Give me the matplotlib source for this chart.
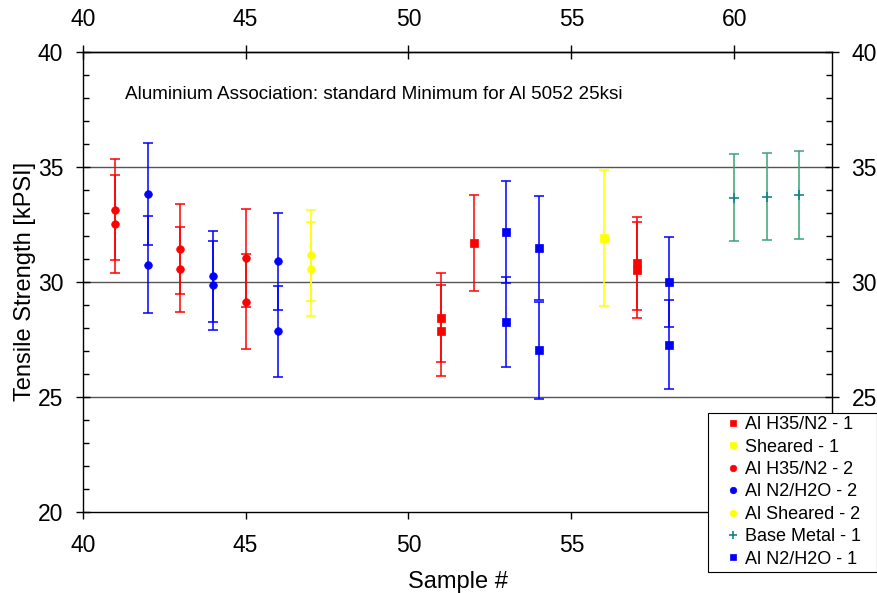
import matplotlib.pyplot as plt
from matplotlib.patches import Rectangle
from matplotlib.ticker import MultipleLocator

plt.rcParams['font.family'] = ['Liberation Sans', 'DejaVu Sans']

# tensile test results per sample series (value, +/- error)
h35_1_x = [51, 51, 52, 57, 57]
h35_1_y = [28.43, 27.86, 31.67, 30.80, 30.52]
h35_1_err = [1.93, 1.98, 2.08, 2.03, 2.08]

sheared_1_x = [56]
sheared_1_y = [31.90]
sheared_1_err = [2.96]

h35_2_x = [41, 41, 43, 43, 45, 45]
h35_2_y = [33.13, 32.51, 31.42, 30.55, 31.03, 29.13]
h35_2_err = [2.19, 2.15, 1.97, 1.85, 2.13, 2.07]

n2h2o_2_x = [42, 42, 44, 44, 46, 46]
n2h2o_2_y = [33.80, 30.74, 30.23, 29.84, 30.88, 27.84]
n2h2o_2_err = [2.21, 2.10, 1.97, 1.94, 2.11, 1.97]

sheared_2_x = [47, 47]
sheared_2_y = [31.14, 30.55]
sheared_2_err = [1.96, 2.03]

base_1_x = [60, 61, 62]
base_1_y = [33.65, 33.70, 33.78]
base_1_err = [1.90, 1.90, 1.92]

n2h2o_1_x = [53, 53, 54, 54, 58, 58]
n2h2o_1_y = [32.17, 28.25, 31.45, 27.01, 29.97, 27.26]
n2h2o_1_err = [2.21, 1.97, 2.26, 2.11, 1.96, 1.94]

series = [
    ("Al H35/N2 - 1", h35_1_x, h35_1_y, h35_1_err, "#ff0000", "s", "#ff0000"),
    ("Sheared - 1", sheared_1_x, sheared_1_y, sheared_1_err, "#ffff00", "s", "#ffff00"),
    ("Al H35/N2 - 2", h35_2_x, h35_2_y, h35_2_err, "#ff0000", "o", "#ff0000"),
    ("Al N2/H2O - 2", n2h2o_2_x, n2h2o_2_y, n2h2o_2_err, "#0000ff", "o", "#0000ff"),
    ("Al Sheared - 2", sheared_2_x, sheared_2_y, sheared_2_err, "#ffff00", "o", "#ffff00"),
    ("Base Metal - 1", base_1_x, base_1_y, base_1_err, "#3aa378", "+", "#13868a"),
    ("Al N2/H2O - 1", n2h2o_1_x, n2h2o_1_y, n2h2o_1_err, "#0000ff", "s", "#0000ff"),
]

fig = plt.figure(figsize=(8.78, 5.93), dpi=100)
ax = fig.add_axes([0.0942, 0.1371, 0.8534, 0.7757])

for y in (25, 30, 35):
    ax.axhline(y, color="#555555", lw=1.0, zorder=1)

handles = []
for label, xs, ys, errs, ecol, mk, mcol in series:
    ax.errorbar(xs, ys, yerr=errs, fmt="none", ecolor=ecol, elinewidth=1.1,
                capsize=3.5, capthick=1.1, zorder=2)
    ms = 7 if mk == "+" else 5.5
    h, = ax.plot(xs, ys, linestyle="none", marker=mk, color=mcol,
                 markersize=ms, markeredgewidth=1.2 if mk == "+" else 0.5,
                 label=label, zorder=3)
    handles.append(h)

ax.set_xlim(40, 63)
ax.set_ylim(20, 40)
ax.xaxis.set_major_locator(MultipleLocator(5))
ax.yaxis.set_major_locator(MultipleLocator(5))
ax.yaxis.set_minor_locator(MultipleLocator(1))

for sp in ax.spines.values():
    sp.set_linewidth(1.0)

ax.tick_params(axis="x", which="major", direction="out", length=5, width=1,
               labelsize=16.5, pad=11)
ax.tick_params(axis="y", which="major", direction="inout", length=10, width=1,
               left=True, right=True, labelright=True, labelsize=16.5, pad=9)
ax.tick_params(axis="y", which="minor", direction="in", length=4, width=1,
               left=True, right=True)

top = ax.secondary_xaxis("top")
top.xaxis.set_major_locator(MultipleLocator(5))
top.tick_params(direction="inout", length=10, width=1, labelsize=16.5, pad=10)
top.spines["top"].set_linewidth(1.0)

ax.set_xlabel("Sample #", fontsize=17)
ax.xaxis.set_label_coords(0.501, -0.13)
ax.set_ylabel("Tensile Strength [kPSI]", fontsize=17)
ax.yaxis.set_label_coords(-0.062, 0.5)

ax.text(0.389, 0.906, "Aluminium Association: standard Minimum for Al 5052 25ksi",
        transform=ax.transAxes, ha="center", va="center", fontsize=13.6)

# legend box in the lower right corner, drawn over the axes edge
box_x0, box_y0 = 708 / 878, 0.035
fig.add_artist(Rectangle((box_x0, box_y0), 0.9994 - box_x0, 0.3035 - box_y0,
                         transform=fig.transFigure, facecolor="white",
                         edgecolor="black", lw=0.8, zorder=4.9))
leg = fig.legend(handles=handles, loc="lower left",
                 bbox_to_anchor=(box_x0, box_y0), bbox_transform=fig.transFigure,
                 fontsize=13, frameon=False, borderpad=0.25, labelspacing=0.3,
                 handlelength=2.27, handletextpad=-0.47, borderaxespad=0,
                 markerscale=0.85)

fig.savefig("out.png", dpi=100)
